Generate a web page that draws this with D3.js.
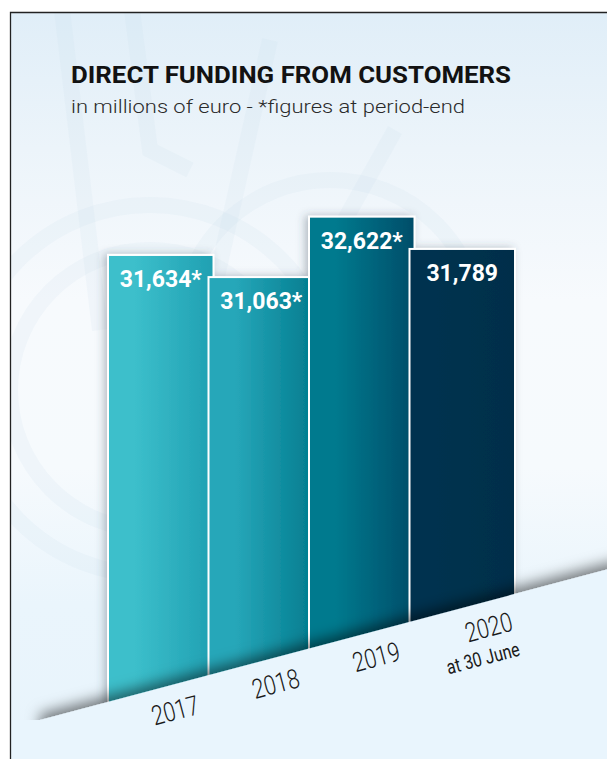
<!DOCTYPE html>
<html>
<head>
<meta charset="utf-8">
<script src="https://cdn.jsdelivr.net/npm/d3@7"></script>
<style>
  html, body { margin: 0; padding: 0; background: #fff; overflow: hidden; }
  svg { display: block; }
</style>
</head>
<body>
<svg id="chart" width="607" height="759"></svg>
<script>
// ---- data ----
const categories = ["2017", "2018", "2019", "2020"];
const values = [31634, 31063, 32622, 31789];
const valueLabels = ["31,634*", "31,063*", "32,622*", "31,789"];
const subLabels = ["", "", "", "at 30 June"];
const titleText = "DIRECT FUNDING FROM CUSTOMERS";
const subtitleText = "in millions of euro - *figures at period-end";

// ---- palette (left / right stop of each bar's gradient) ----
const palette = [
  ["#3cbfcb", "#20a0b2"],
  ["#27a7b9", "#027c8f"],
  ["#037a8e", "#034d69"],
  ["#04334f", "#032e4a"]
];

const W = 607, H = 759;
const svg = d3.select("#chart");
const defs = svg.append("defs");

// background wash
const bg = defs.append("linearGradient").attr("id", "bgGrad")
  .attr("x1", 0).attr("y1", 0).attr("x2", 0).attr("y2", 1);
[[0, "#e0eef8"], [0.18, "#ecf4fa"], [0.38, "#f7fafd"], [0.6, "#f6fafd"], [0.78, "#eaf5fc"], [1, "#e8f4fc"]]
  .forEach(([o, c]) => bg.append("stop").attr("offset", o).attr("stop-color", c));

// bar gradients
palette.forEach((p, i) => {
  const g = defs.append("linearGradient").attr("id", "barGrad" + i)
    .attr("x1", 0).attr("y1", 0).attr("x2", 1).attr("y2", 0);
  g.append("stop").attr("offset", 0.25).attr("stop-color", p[0]);
  g.append("stop").attr("offset", 1).attr("stop-color", p[1]);
});

// soft shadow behind the bars
const fBar = defs.append("filter").attr("id", "barShadow")
  .attr("x", "-20%").attr("y", "-10%").attr("width", "140%").attr("height", "130%");
fBar.append("feDropShadow").attr("dx", -3).attr("dy", 0).attr("stdDeviation", 4)
  .attr("flood-color", "#3a4a5a").attr("flood-opacity", 0.35);

// shadow cast upward by the floor edge
const fFloor = defs.append("filter").attr("id", "floorShadow")
  .attr("x", "-5%").attr("y", "-30%").attr("width", "110%").attr("height", "160%");
fFloor.append("feDropShadow").attr("dx", 0).attr("dy", -6).attr("stdDeviation", 7)
  .attr("flood-color", "#000").attr("flood-opacity", 0.5);

const clip = defs.append("clipPath").attr("id", "frameClip");
clip.append("rect").attr("x", 10).attr("y", 12).attr("width", W).attr("height", H);

// ---- panel ----
svg.append("rect").attr("width", W).attr("height", H).attr("fill", "#fff");
const panel = svg.append("g").attr("clip-path", "url(#frameClip)");
panel.append("rect").attr("x", 10).attr("y", 12).attr("width", W).attr("height", H)
  .attr("fill", "url(#bgGrad)");

// faint emblem in the background
const mark = panel.append("g").attr("fill", "none").attr("stroke", "#c4d6e4")
  .attr("stroke-opacity", 0.13).attr("stroke-width", 16);
mark.append("circle").attr("cx", 150).attr("cy", 390).attr("r", 185);
mark.append("circle").attr("cx", 150).attr("cy", 390).attr("r", 140);
mark.append("circle").attr("cx", 330).attr("cy", 330).attr("r", 150);
mark.append("path").attr("d", "M62,10 L100,330");
mark.append("path").attr("d", "M132,10 L150,150 L190,170");
mark.append("path").attr("d", "M300,300 L395,130");
mark.append("path").attr("d", "M205,330 L270,40");

// ---- titles ----
panel.append("text").attr("x", 71).attr("y", 83)
  .attr("font-family", "Roboto, sans-serif").attr("font-weight", 700).attr("font-size", 23)
  .attr("fill", "#121212").attr("textLength", 440).attr("lengthAdjust", "spacingAndGlyphs")
  .text(titleText);
panel.append("text").attr("x", 71).attr("y", 113)
  .attr("font-family", "Roboto, sans-serif").attr("font-weight", 300).attr("font-size", 18)
  .attr("fill", "#2a2a2a").attr("textLength", 394).attr("lengthAdjust", "spacingAndGlyphs")
  .text(subtitleText);

// ---- scales ----
const x = d3.scaleBand().domain(categories).range([108, 510]).padding(0);
const overlap = 5;
const barW = x.bandwidth() + overlap;
const y = d3.scaleLinear().domain([20000, 33000]).range([706, 202]);
// sloping floor line
const floorY = d3.scaleLinear().domain([40, 590]).range([720, 574]);

const data = categories.map((c, i) => ({ c, v: values[i], label: valueLabels[i], sub: subLabels[i], i }));

// ---- bars ----
const bars = panel.append("g").attr("filter", "url(#barShadow)");
bars.selectAll("rect").data(data).join("rect")
  .attr("x", d => x(d.c))
  .attr("y", d => y(d.v))
  .attr("width", barW)
  .attr("height", d => 740 - y(d.v))
  .attr("fill", d => "url(#barGrad" + d.i + ")")
  .attr("stroke", "#fff").attr("stroke-width", 2);

panel.append("g").selectAll("text").data(data).join("text")
  .attr("x", d => x(d.c) + barW / 2)
  .attr("y", d => y(d.v) + 32)
  .attr("text-anchor", "middle")
  .attr("font-family", "Roboto, sans-serif").attr("font-weight", 700).attr("font-size", 23)
  .attr("fill", "#fff")
  .text(d => d.label);

// ---- floor ----
const fx0 = 40, fx1 = 620;
panel.append("path")
  .attr("d", `M${fx0},${floorY(fx0)} L${fx1},${floorY(fx1)} L${fx1},${H + 20} L${fx0},${H + 20} Z`)
  .attr("fill", "#e9f5fd")
  .attr("filter", "url(#floorShadow)");
panel.append("rect").attr("x", 0).attr("y", floorY(fx0)).attr("width", fx0 + 1).attr("height", 60)
  .attr("fill", "#e9f5fd");

// ---- category labels along the floor ----
const angle = Math.atan((floorY(590) - floorY(40)) / 550) * 180 / Math.PI;
const lab = panel.append("g").selectAll("g").data(data).join("g")
  .attr("transform", d => {
    const xe = x(d.c) + barW / 2 + (d.sub ? 52 : 40);
    return `translate(${xe},${floorY(xe) + 36}) rotate(${angle})`;
  });
lab.append("text")
  .attr("text-anchor", "end")
  .attr("transform", "scale(0.8,1)")
  .attr("font-family", "Roboto, sans-serif").attr("font-weight", 300).attr("font-size", 27)
  .attr("fill", "#1a1a1a")
  .text(d => d.c);
lab.filter(d => d.sub).append("text")
  .attr("text-anchor", "end").attr("y", 26)
  .attr("transform", "scale(0.8,1)")
  .attr("font-family", "Roboto, sans-serif").attr("font-weight", 400).attr("font-size", 20)
  .attr("fill", "#1a1a1a")
  .text(d => d.sub);

// ---- frame ----
svg.append("path").attr("d", `M10.5,${H} L10.5,12.5 L${W},12.5`)
  .attr("fill", "none").attr("stroke", "#222").attr("stroke-width", 1.3);
</script>
</body>
</html>
